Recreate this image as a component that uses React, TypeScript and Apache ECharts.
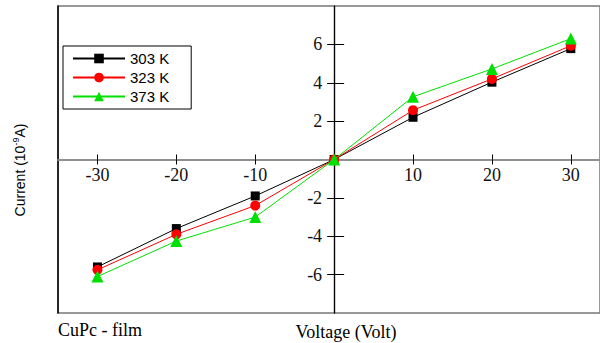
import React, { useEffect, useRef } from "react";
import * as echarts from "echarts";

const voltages = [-30, -20, -10, 0, 10, 20, 30];
const current303 = [-5.6, -3.6, -1.9, 0, 2.2, 4.03, 5.78];
const current323 = [-5.75, -3.9, -2.4, 0, 2.57, 4.2, 5.93];
const current373 = [-6.1, -4.25, -3.0, 0, 3.27, 4.72, 6.3];
const seriesNames = ["303 K", "323 K", "373 K"];
const xTicks = [-30, -20, -10, 10, 20, 30];
const yTicks = [-6, -4, -2, 2, 4, 6];

const pair = (ys: number[]) => voltages.map((v, i) => [v, ys[i]]);

export default function App() {
  const ref = useRef<HTMLDivElement>(null);
  useEffect(() => {
    const chart = echarts.init(ref.current!, null, { renderer: "svg" });
    const serif = "'Times New Roman', 'Liberation Serif', serif";
    const sans = "Arial, 'Liberation Sans', sans-serif";
    const xBase = { type: "value", min: -35, max: 33.7, interval: 5, position: "bottom" };
    const yBase = { type: "value", min: -8, max: 8, interval: 2, position: "left" };
    const gridLeft = 58;
    const gridTop = 6;
    const gridBottom = 30;
    const H = 343;
    const buildOption = (xOff: number, yOff: number) => ({
      animation: false,
      backgroundColor: "#fff",
      grid: {
        left: gridLeft,
        top: gridTop,
        right: 0,
        bottom: gridBottom,
        show: true,
        borderColor: "#777",
        borderWidth: 1.5,
        backgroundColor: "transparent",
      },
      legend: {
        orient: "vertical",
        left: 63,
        top: 46,
        data: seriesNames,
        itemWidth: 52,
        itemHeight: 12,
        itemGap: 4,
        padding: [5, 22, 5, 9],
        borderColor: "#000",
        borderWidth: 1,
        textStyle: { fontFamily: sans, fontSize: 15, color: "#000" },
      },
      xAxis: [
        {
          ...xBase,
          offset: xOff,
          axisLine: { onZero: false, lineStyle: { color: "#888", width: 1.5 } },
          axisTick: {
            show: true,
            inside: true,
            length: 5,
            lineStyle: { color: "#000" },
            customValues: xTicks,
          },
          axisLabel: {
            customValues: xTicks,
            fontFamily: serif,
            fontSize: 18,
            color: "#111",
            margin: 6,
          },
          splitLine: { show: false },
        },
        {
          ...xBase,
          offset: xOff,
          axisLine: { onZero: false, lineStyle: { color: "#888", width: 1.5 } },
          axisTick: {
            show: true,
            inside: false,
            length: 5,
            lineStyle: { color: "#000" },
            customValues: xTicks,
          },
          axisLabel: { show: false },
          splitLine: { show: false },
        },
      ],
      yAxis: [
        {
          ...yBase,
          offset: yOff,
          axisLine: { onZero: false, lineStyle: { color: "#000", width: 1.2 } },
          axisTick: {
            show: true,
            inside: true,
            length: 10,
            lineStyle: { color: "#000" },
            customValues: yTicks,
          },
          axisLabel: {
            customValues: yTicks,
            fontFamily: serif,
            fontSize: 18,
            color: "#111",
            margin: 12,
          },
          splitLine: { show: false },
        },
        {
          ...yBase,
          offset: yOff,
          axisLine: { onZero: false, lineStyle: { color: "#000", width: 1.2 } },
          axisTick: {
            show: true,
            inside: false,
            length: 7,
            lineStyle: { color: "#000" },
            customValues: yTicks,
          },
          axisLabel: { show: false },
          splitLine: { show: false },
        },
        {
          type: "value",
          min: -8,
          max: 8,
          position: "left",
          axisLine: { show: true, onZero: false, lineStyle: { color: "#000", width: 1.5 } },
          axisTick: { show: false },
          axisLabel: { show: false },
          splitLine: { show: false },
        },
      ],
      series: [
        {
          name: seriesNames[0],
          type: "line",
          data: pair(current303),
          symbol: "rect",
          symbolSize: 9,
          color: "#000",
          lineStyle: { width: 1, color: "#000" },
          itemStyle: { color: "#000" },
          z: 3,
        },
        {
          name: seriesNames[1],
          type: "line",
          data: pair(current323),
          symbol: "circle",
          symbolSize: 10,
          color: "#ff0000",
          lineStyle: { width: 1, color: "#ff0000" },
          itemStyle: { color: "#ff0000" },
          z: 4,
        },
        {
          name: seriesNames[2],
          type: "line",
          data: pair(current373),
          symbol: "triangle",
          symbolSize: 12,
          color: "#00e000",
          lineStyle: { width: 1, color: "#00e000" },
          itemStyle: { color: "#00e000" },
          z: 5,
        },
      ],
      graphic: [
        {
          type: "text",
          x: 20,
          y: 170,
          rotation: Math.PI / 2,
          style: {
            text: "Current (10{sup|-9}A)",
            rich: { sup: { fontSize: 9, fontFamily: sans, verticalAlign: "top", padding: [0, 0, 8, 0] } },
            fontFamily: sans,
            fontSize: 14,
            fill: "#000",
            align: "center",
            verticalAlign: "middle",
          },
        },
        {
          type: "text",
          x: 58,
          y: 330,
          style: {
            text: "CuPc - film",
            fontFamily: serif,
            fontSize: 18,
            fill: "#000",
            align: "left",
            verticalAlign: "middle",
          },
        },
        {
          type: "text",
          x: 346,
          y: 332,
          style: {
            text: "Voltage (Volt)",
            fontFamily: serif,
            fontSize: 18,
            fill: "#000",
            align: "center",
            verticalAlign: "middle",
          },
        },
      ],
    });
    chart.setOption(buildOption(0, 0));
    const zero = chart.convertToPixel({ xAxisIndex: 0, yAxisIndex: 0 }, [0, 0]) as number[];
    const xOff = zero[1] - (H - gridBottom);
    const yOff = gridLeft - zero[0];
    chart.setOption(buildOption(xOff, yOff));
    return () => chart.dispose();
  }, []);
  return <div ref={ref} style={{ width: 600, height: 343, position: "absolute", left: 0, top: 0 }} />;
}
